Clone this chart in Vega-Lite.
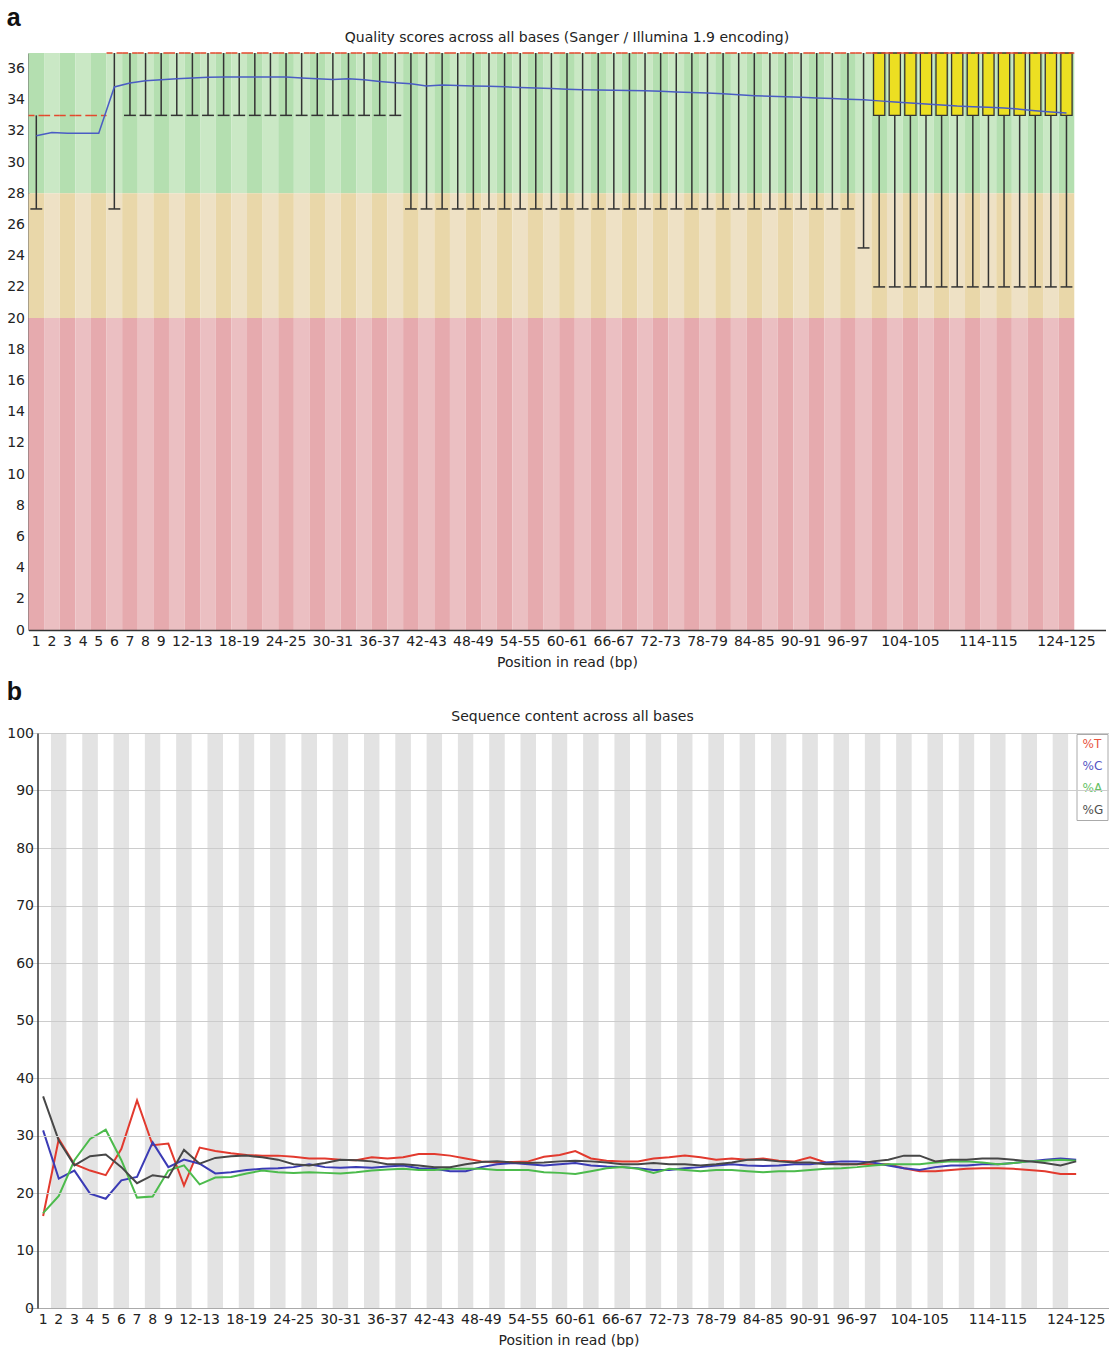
{
 "$schema": "https://vega.github.io/schema/vega-lite/v6.json",
 "background": "white",
 "padding": {"left": 6.5, "top": 6, "right": 4, "bottom": 0},
 "spacing": 11,
 "resolve": {"scale": {"stroke": "independent"}},
 "datasets": {
  "qual": [
   {"bin":"1","low":27,"q1":33,"med":33,"q3":33,"high":33,"mean":31.7},
   {"bin":"2","low":33,"q1":33,"med":33,"q3":33,"high":33,"mean":31.9},
   {"bin":"3","low":33,"q1":33,"med":33,"q3":33,"high":33,"mean":31.85},
   {"bin":"4","low":33,"q1":33,"med":33,"q3":33,"high":33,"mean":31.85},
   {"bin":"5","low":33,"q1":33,"med":33,"q3":33,"high":33,"mean":31.85},
   {"bin":"6","low":27,"q1":37,"med":37,"q3":37,"high":37,"mean":34.82},
   {"bin":"7","low":33,"q1":37,"med":37,"q3":37,"high":37,"mean":35.08},
   {"bin":"8","low":33,"q1":37,"med":37,"q3":37,"high":37,"mean":35.22},
   {"bin":"9","low":33,"q1":37,"med":37,"q3":37,"high":37,"mean":35.29},
   {"bin":"10-11","low":33,"q1":37,"med":37,"q3":37,"high":37,"mean":35.35},
   {"bin":"12-13","low":33,"q1":37,"med":37,"q3":37,"high":37,"mean":35.40},
   {"bin":"14-15","low":33,"q1":37,"med":37,"q3":37,"high":37,"mean":35.44},
   {"bin":"16-17","low":33,"q1":37,"med":37,"q3":37,"high":37,"mean":35.46},
   {"bin":"18-19","low":33,"q1":37,"med":37,"q3":37,"high":37,"mean":35.46},
   {"bin":"20-21","low":33,"q1":37,"med":37,"q3":37,"high":37,"mean":35.46},
   {"bin":"22-23","low":33,"q1":37,"med":37,"q3":37,"high":37,"mean":35.46},
   {"bin":"24-25","low":33,"q1":37,"med":37,"q3":37,"high":37,"mean":35.46},
   {"bin":"26-27","low":33,"q1":37,"med":37,"q3":37,"high":37,"mean":35.40},
   {"bin":"28-29","low":33,"q1":37,"med":37,"q3":37,"high":37,"mean":35.35},
   {"bin":"30-31","low":33,"q1":37,"med":37,"q3":37,"high":37,"mean":35.30},
   {"bin":"32-33","low":33,"q1":37,"med":37,"q3":37,"high":37,"mean":35.35},
   {"bin":"34-35","low":33,"q1":37,"med":37,"q3":37,"high":37,"mean":35.28},
   {"bin":"36-37","low":33,"q1":37,"med":37,"q3":37,"high":37,"mean":35.18},
   {"bin":"38-39","low":33,"q1":37,"med":37,"q3":37,"high":37,"mean":35.10},
   {"bin":"40-41","low":27,"q1":37,"med":37,"q3":37,"high":37,"mean":35.03},
   {"bin":"42-43","low":27,"q1":37,"med":37,"q3":37,"high":37,"mean":34.88},
   {"bin":"44-45","low":27,"q1":37,"med":37,"q3":37,"high":37,"mean":34.94},
   {"bin":"46-47","low":27,"q1":37,"med":37,"q3":37,"high":37,"mean":34.92},
   {"bin":"48-49","low":27,"q1":37,"med":37,"q3":37,"high":37,"mean":34.88},
   {"bin":"50-51","low":27,"q1":37,"med":37,"q3":37,"high":37,"mean":34.86},
   {"bin":"52-53","low":27,"q1":37,"med":37,"q3":37,"high":37,"mean":34.83},
   {"bin":"54-55","low":27,"q1":37,"med":37,"q3":37,"high":37,"mean":34.79},
   {"bin":"56-57","low":27,"q1":37,"med":37,"q3":37,"high":37,"mean":34.76},
   {"bin":"58-59","low":27,"q1":37,"med":37,"q3":37,"high":37,"mean":34.72},
   {"bin":"60-61","low":27,"q1":37,"med":37,"q3":37,"high":37,"mean":34.68},
   {"bin":"62-63","low":27,"q1":37,"med":37,"q3":37,"high":37,"mean":34.65},
   {"bin":"64-65","low":27,"q1":37,"med":37,"q3":37,"high":37,"mean":34.63},
   {"bin":"66-67","low":27,"q1":37,"med":37,"q3":37,"high":37,"mean":34.61},
   {"bin":"68-69","low":27,"q1":37,"med":37,"q3":37,"high":37,"mean":34.60},
   {"bin":"70-71","low":27,"q1":37,"med":37,"q3":37,"high":37,"mean":34.58},
   {"bin":"72-73","low":27,"q1":37,"med":37,"q3":37,"high":37,"mean":34.54},
   {"bin":"74-75","low":27,"q1":37,"med":37,"q3":37,"high":37,"mean":34.50},
   {"bin":"76-77","low":27,"q1":37,"med":37,"q3":37,"high":37,"mean":34.47},
   {"bin":"78-79","low":27,"q1":37,"med":37,"q3":37,"high":37,"mean":34.43},
   {"bin":"80-81","low":27,"q1":37,"med":37,"q3":37,"high":37,"mean":34.38},
   {"bin":"82-83","low":27,"q1":37,"med":37,"q3":37,"high":37,"mean":34.32},
   {"bin":"84-85","low":27,"q1":37,"med":37,"q3":37,"high":37,"mean":34.26},
   {"bin":"86-87","low":27,"q1":37,"med":37,"q3":37,"high":37,"mean":34.22},
   {"bin":"88-89","low":27,"q1":37,"med":37,"q3":37,"high":37,"mean":34.20},
   {"bin":"90-91","low":27,"q1":37,"med":37,"q3":37,"high":37,"mean":34.16},
   {"bin":"92-93","low":27,"q1":37,"med":37,"q3":37,"high":37,"mean":34.12},
   {"bin":"94-95","low":27,"q1":37,"med":37,"q3":37,"high":37,"mean":34.08},
   {"bin":"96-97","low":27,"q1":37,"med":37,"q3":37,"high":37,"mean":34.04},
   {"bin":"98-99","low":24.5,"q1":37,"med":37,"q3":37,"high":37,"mean":34.00},
   {"bin":"100-101","low":22,"q1":33,"med":37,"q3":37,"high":37,"mean":33.93},
   {"bin":"102-103","low":22,"q1":33,"med":37,"q3":37,"high":37,"mean":33.86},
   {"bin":"104-105","low":22,"q1":33,"med":37,"q3":37,"high":37,"mean":33.80},
   {"bin":"106-107","low":22,"q1":33,"med":37,"q3":37,"high":37,"mean":33.73},
   {"bin":"108-109","low":22,"q1":33,"med":37,"q3":37,"high":37,"mean":33.67},
   {"bin":"110-111","low":22,"q1":33,"med":37,"q3":37,"high":37,"mean":33.60},
   {"bin":"112-113","low":22,"q1":33,"med":37,"q3":37,"high":37,"mean":33.56},
   {"bin":"114-115","low":22,"q1":33,"med":37,"q3":37,"high":37,"mean":33.52},
   {"bin":"116-117","low":22,"q1":33,"med":37,"q3":37,"high":37,"mean":33.48},
   {"bin":"118-119","low":22,"q1":33,"med":37,"q3":37,"high":37,"mean":33.40},
   {"bin":"120-121","low":22,"q1":33,"med":37,"q3":37,"high":37,"mean":33.30},
   {"bin":"122-123","low":22,"q1":33,"med":37,"q3":37,"high":37,"mean":33.22},
   {"bin":"124-125","low":22,"q1":33,"med":37,"q3":37,"high":37,"mean":33.15}
  ],
  "content": [
   {"bin":"1","%T":16.0,"%C":30.9,"%A":16.5,"%G":36.8},
   {"bin":"2","%T":29.4,"%C":22.5,"%A":19.5,"%G":29.1},
   {"bin":"3","%T":25.0,"%C":23.9,"%A":25.7,"%G":24.8},
   {"bin":"4","%T":23.9,"%C":19.9,"%A":29.4,"%G":26.4},
   {"bin":"5","%T":23.1,"%C":19.0,"%A":31.0,"%G":26.7},
   {"bin":"6","%T":27.7,"%C":22.2,"%A":25.7,"%G":24.5},
   {"bin":"7","%T":36.1,"%C":22.8,"%A":19.2,"%G":21.7},
   {"bin":"8","%T":28.3,"%C":28.8,"%A":19.4,"%G":23.1},
   {"bin":"9","%T":28.6,"%C":24.5,"%A":23.9,"%G":22.7},
   {"bin":"10-11","%T":21.3,"%C":25.8,"%A":24.8,"%G":27.5},
   {"bin":"12-13","%T":27.9,"%C":25.1,"%A":21.5,"%G":25.1},
   {"bin":"14-15","%T":27.3,"%C":23.4,"%A":22.7,"%G":26.1},
   {"bin":"16-17","%T":26.9,"%C":23.6,"%A":22.8,"%G":26.4},
   {"bin":"18-19","%T":26.6,"%C":24.0,"%A":23.4,"%G":26.5},
   {"bin":"20-21","%T":26.5,"%C":24.2,"%A":23.9,"%G":26.2},
   {"bin":"22-23","%T":26.5,"%C":24.3,"%A":23.6,"%G":25.8},
   {"bin":"24-25","%T":26.3,"%C":24.5,"%A":23.5,"%G":25.0},
   {"bin":"26-27","%T":26.0,"%C":25.0,"%A":23.6,"%G":24.8},
   {"bin":"28-29","%T":26.0,"%C":24.5,"%A":23.5,"%G":25.2},
   {"bin":"30-31","%T":25.8,"%C":24.4,"%A":23.4,"%G":25.8},
   {"bin":"32-33","%T":25.7,"%C":24.5,"%A":23.6,"%G":25.7},
   {"bin":"34-35","%T":26.2,"%C":24.4,"%A":23.9,"%G":25.5},
   {"bin":"36-37","%T":26.0,"%C":24.6,"%A":24.1,"%G":25.0},
   {"bin":"38-39","%T":26.2,"%C":24.8,"%A":24.2,"%G":25.0},
   {"bin":"40-41","%T":26.8,"%C":24.3,"%A":24.0,"%G":24.8},
   {"bin":"42-43","%T":26.8,"%C":24.2,"%A":24.0,"%G":24.5},
   {"bin":"44-45","%T":26.5,"%C":23.8,"%A":24.2,"%G":24.5},
   {"bin":"46-47","%T":26.0,"%C":23.8,"%A":24.2,"%G":25.0},
   {"bin":"48-49","%T":25.5,"%C":24.5,"%A":24.2,"%G":25.4},
   {"bin":"50-51","%T":25.3,"%C":25.0,"%A":24.0,"%G":25.5},
   {"bin":"52-53","%T":25.4,"%C":25.2,"%A":24.0,"%G":25.3},
   {"bin":"54-55","%T":25.5,"%C":25.0,"%A":24.0,"%G":25.2},
   {"bin":"56-57","%T":26.3,"%C":24.8,"%A":23.6,"%G":25.3},
   {"bin":"58-59","%T":26.6,"%C":25.0,"%A":23.5,"%G":25.5},
   {"bin":"60-61","%T":27.3,"%C":25.2,"%A":23.3,"%G":25.6},
   {"bin":"62-63","%T":26.0,"%C":24.8,"%A":23.8,"%G":25.5},
   {"bin":"64-65","%T":25.6,"%C":24.6,"%A":24.3,"%G":25.3},
   {"bin":"66-67","%T":25.5,"%C":24.5,"%A":24.5,"%G":25.0},
   {"bin":"68-69","%T":25.5,"%C":24.3,"%A":24.2,"%G":25.0},
   {"bin":"70-71","%T":26.0,"%C":24.0,"%A":23.5,"%G":25.2},
   {"bin":"72-73","%T":26.2,"%C":24.0,"%A":24.2,"%G":25.0},
   {"bin":"74-75","%T":26.5,"%C":24.3,"%A":24.0,"%G":25.0},
   {"bin":"76-77","%T":26.2,"%C":24.5,"%A":23.8,"%G":24.8},
   {"bin":"78-79","%T":25.8,"%C":24.8,"%A":24.0,"%G":25.0},
   {"bin":"80-81","%T":26.0,"%C":25.0,"%A":24.0,"%G":25.3},
   {"bin":"82-83","%T":25.8,"%C":24.8,"%A":23.8,"%G":25.8},
   {"bin":"84-85","%T":26.0,"%C":24.7,"%A":23.6,"%G":25.8},
   {"bin":"86-87","%T":25.6,"%C":24.8,"%A":23.8,"%G":25.5},
   {"bin":"88-89","%T":25.5,"%C":25.0,"%A":23.8,"%G":25.3},
   {"bin":"90-91","%T":26.2,"%C":25.0,"%A":24.0,"%G":25.3},
   {"bin":"92-93","%T":25.3,"%C":25.3,"%A":24.2,"%G":25.0},
   {"bin":"94-95","%T":25.0,"%C":25.5,"%A":24.3,"%G":25.0},
   {"bin":"96-97","%T":25.0,"%C":25.5,"%A":24.5,"%G":25.0},
   {"bin":"98-99","%T":25.0,"%C":25.3,"%A":24.8,"%G":25.5},
   {"bin":"100-101","%T":25.0,"%C":24.8,"%A":25.0,"%G":25.8},
   {"bin":"102-103","%T":24.3,"%C":24.3,"%A":25.0,"%G":26.5},
   {"bin":"104-105","%T":23.8,"%C":24.0,"%A":25.0,"%G":26.5},
   {"bin":"106-107","%T":23.8,"%C":24.5,"%A":25.3,"%G":25.5},
   {"bin":"108-109","%T":24.0,"%C":24.8,"%A":25.5,"%G":25.8},
   {"bin":"110-111","%T":24.2,"%C":24.8,"%A":25.5,"%G":25.8},
   {"bin":"112-113","%T":24.3,"%C":25.0,"%A":25.3,"%G":26.0},
   {"bin":"114-115","%T":24.3,"%C":25.0,"%A":25.0,"%G":26.0},
   {"bin":"116-117","%T":24.2,"%C":25.2,"%A":25.2,"%G":25.8},
   {"bin":"118-119","%T":24.0,"%C":25.5,"%A":25.5,"%G":25.5},
   {"bin":"120-121","%T":23.8,"%C":25.8,"%A":25.6,"%G":25.2},
   {"bin":"122-123","%T":23.3,"%C":26.0,"%A":25.8,"%G":24.8},
   {"bin":"124-125","%T":23.3,"%C":25.8,"%A":25.6,"%G":25.5}
  ]
 },
 "vconcat": [
  {
   "title": {"text": "a", "anchor": "start", "frame": "bounds", "font": "Liberation Sans", "fontSize": 25, "fontWeight": "bold", "color": "#111111", "offset": 0},
   "vconcat": [
    {
     "title": {"text": "Quality scores across all bases (Sanger / Illumina 1.9 encoding)", "anchor": "middle", "frame": "group", "font": "DejaVu Sans", "fontSize": 14, "fontWeight": "normal", "color": "#222222", "offset": 7},
     "width": 1077,
     "height": 577,
     "data": {"name": "qual"},
     "encoding": {
      "x": {"field": "bin", "type": "nominal", "title": "Position in read (bp)",
            "scale": {"domain": ["1","2","3","4","5","6","7","8","9","10-11","12-13","14-15","16-17","18-19","20-21","22-23","24-25","26-27","28-29","30-31","32-33","34-35","36-37","38-39","40-41","42-43","44-45","46-47","48-49","50-51","52-53","54-55","56-57","58-59","60-61","62-63","64-65","66-67","68-69","70-71","72-73","74-75","76-77","78-79","80-81","82-83","84-85","86-87","88-89","90-91","92-93","94-95","96-97","98-99","100-101","102-103","104-105","106-107","108-109","110-111","112-113","114-115","116-117","118-119","120-121","122-123","124-125"], "paddingInner": 0, "paddingOuter": 1.225, "align": 0},
            "axis": {"values": ["1","2","3","4","5","6","7","8","9","12-13","18-19","24-25","30-31","36-37","42-43","48-49","54-55","60-61","66-67","72-73","78-79","84-85","90-91","96-97","104-105","114-115","124-125"], "labelAngle": 0, "labelPadding": 4, "titlePadding": 7, "domainColor": "#333333", "domainWidth": 1.5, "labelOverlap": false}}
     },
     "layer": [
      {"mark": {"type": "rect"},
       "encoding": {"y": {"datum": 28, "type": "quantitative", "title": null, "scale": {"domain": [0, 37], "nice": false}, "axis": {"values": [0,2,4,6,8,10,12,14,16,18,20,22,24,26,28,30,32,34,36], "labelOverlap": false, "labelPadding": 4, "domainColor": "#333333", "domainWidth": 1.5}},
                    "y2": {"datum": 37},
                    "fill": {"field": "bin", "type": "nominal", "sort": null, "legend": null, "scale": {"range": ["#b4dfb0", "#cae8c5"]}}}},
      {"mark": {"type": "rect"},
       "encoding": {"y": {"datum": 20, "type": "quantitative", "title": null, "axis": {"values": [0,2,4,6,8,10,12,14,16,18,20,22,24,26,28,30,32,34,36], "labelOverlap": false, "labelPadding": 4, "domainColor": "#333333", "domainWidth": 1.5}},
                    "y2": {"datum": 28},
                    "fill": {"field": "bin", "type": "nominal", "sort": null, "legend": null, "scale": {"range": ["#e9d7a9", "#eee1c5"]}}}},
      {"mark": {"type": "rect"},
       "encoding": {"y": {"datum": 0, "type": "quantitative", "title": null, "axis": {"values": [0,2,4,6,8,10,12,14,16,18,20,22,24,26,28,30,32,34,36], "labelOverlap": false, "labelPadding": 4, "domainColor": "#333333", "domainWidth": 1.5}},
                    "y2": {"datum": 20},
                    "fill": {"field": "bin", "type": "nominal", "sort": null, "legend": null, "scale": {"range": ["#e6aaae", "#ebbfc2"]}}}},
      {"transform": [{"filter": "datum.low < datum.high"}],
       "mark": {"type": "rule", "color": "#333333", "strokeWidth": 1.5},
       "encoding": {"y": {"field": "low", "type": "quantitative", "title": null, "axis": {"values": [0,2,4,6,8,10,12,14,16,18,20,22,24,26,28,30,32,34,36], "labelOverlap": false, "labelPadding": 4, "domainColor": "#333333", "domainWidth": 1.5}}, "y2": {"field": "high"}}},
      {"transform": [{"filter": "datum.low < datum.high"}],
       "mark": {"type": "rule", "color": "#333333", "strokeWidth": 1.5},
       "encoding": {"x": {"field": "bin", "type": "nominal", "bandPosition": 0.12, "title": "Position in read (bp)"},
                    "x2": {"field": "bin", "bandPosition": 0.88},
                    "y": {"field": "low", "type": "quantitative", "title": null, "axis": {"values": [0,2,4,6,8,10,12,14,16,18,20,22,24,26,28,30,32,34,36], "labelOverlap": false, "labelPadding": 4, "domainColor": "#333333", "domainWidth": 1.5}}}},
      {"transform": [{"filter": "datum.q1 < datum.q3"}],
       "mark": {"type": "bar", "width": {"band": 0.72}, "fill": "#ecdf22", "stroke": "#333333", "strokeWidth": 1.3},
       "encoding": {"y": {"field": "q1", "type": "quantitative", "title": null, "axis": {"values": [0,2,4,6,8,10,12,14,16,18,20,22,24,26,28,30,32,34,36], "labelOverlap": false, "labelPadding": 4, "domainColor": "#333333", "domainWidth": 1.5}}, "y2": {"field": "q3"}}},
      {"mark": {"type": "rule", "color": "#e4482c", "strokeWidth": 1.5, "strokeDash": [6, 4]},
       "encoding": {"x": {"field": "bin", "type": "nominal", "bandPosition": 0, "title": "Position in read (bp)"},
                    "x2": {"field": "bin", "bandPosition": 1},
                    "y": {"field": "med", "type": "quantitative", "title": null, "axis": {"values": [0,2,4,6,8,10,12,14,16,18,20,22,24,26,28,30,32,34,36], "labelOverlap": false, "labelPadding": 4, "domainColor": "#333333", "domainWidth": 1.5}}}},
      {"mark": {"type": "line", "color": "#4a5cc4", "strokeWidth": 1.5},
       "encoding": {"y": {"field": "mean", "type": "quantitative", "title": null, "axis": {"values": [0,2,4,6,8,10,12,14,16,18,20,22,24,26,28,30,32,34,36], "labelOverlap": false, "labelPadding": 4, "domainColor": "#333333", "domainWidth": 1.5}}}}
     ],
     "resolve": {"scale": {"fill": "independent"}}
    }
   ]
  },
  {
   "title": {"text": "b", "anchor": "start", "frame": "bounds", "font": "Liberation Sans", "fontSize": 25, "fontWeight": "bold", "color": "#111111", "offset": 5},
   "resolve": {"scale": {"stroke": "independent"}},
   "vconcat": [
    {
     "title": {"text": "Sequence content across all bases", "anchor": "middle", "frame": "group", "font": "DejaVu Sans", "fontSize": 14, "fontWeight": "normal", "color": "#222222", "offset": 2, "dx": 4},
     "width": 1080,
     "height": 575,
     "encoding": {
      "x": {"field": "bin", "type": "nominal", "title": "Position in read (bp)",
            "scale": {"domain": ["1","2","3","4","5","6","7","8","9","10-11","12-13","14-15","16-17","18-19","20-21","22-23","24-25","26-27","28-29","30-31","32-33","34-35","36-37","38-39","40-41","42-43","44-45","46-47","48-49","50-51","52-53","54-55","56-57","58-59","60-61","62-63","64-65","66-67","68-69","70-71","72-73","74-75","76-77","78-79","80-81","82-83","84-85","86-87","88-89","90-91","92-93","94-95","96-97","98-99","100-101","102-103","104-105","106-107","108-109","110-111","112-113","114-115","116-117","118-119","120-121","122-123","124-125"], "paddingInner": 0, "paddingOuter": 1.34, "align": 0.217},
            "axis": {"values": ["1","2","3","4","5","6","7","8","9","12-13","18-19","24-25","30-31","36-37","42-43","48-49","54-55","60-61","66-67","72-73","78-79","84-85","90-91","96-97","104-105","114-115","124-125"], "labelAngle": 0, "labelPadding": 4, "titlePadding": 7, "domainColor": "#aaaaaa", "labelOverlap": false}}
     },
     "layer": [
      {"data": {"name": "qual"},
       "mark": {"type": "rect"},
       "encoding": {"y": {"datum": 0, "type": "quantitative", "title": null, "scale": {"domain": [0, 100], "nice": false}, "axis": {"values": [0,10,20,30,40,50,60,70,80,90,100], "offset": -9, "labelOverlap": false, "grid": true, "gridColor": "#cccccc", "labelPadding": 4, "domainColor": "#333333", "domainWidth": 1.5, "zindex": 1}},
                    "y2": {"datum": 100},
                    "fill": {"field": "bin", "type": "nominal", "sort": null, "legend": null, "scale": {"range": ["#ffffff", "#e3e3e3"]}}}},
      {"data": {"name": "content"},
       "transform": [{"fold": ["%T", "%C", "%A", "%G"], "as": ["base", "pct"]}],
       "mark": {"type": "line", "strokeWidth": 2},
       "encoding": {"y": {"field": "pct", "type": "quantitative", "title": null, "axis": {"values": [0,10,20,30,40,50,60,70,80,90,100], "offset": -9, "labelOverlap": false, "grid": true, "gridColor": "#cccccc", "labelPadding": 4, "domainColor": "#333333", "domainWidth": 1.5, "zindex": 1}},
                    "stroke": {"field": "base", "type": "nominal",
                               "scale": {"domain": ["%T", "%C", "%A", "%G"], "range": ["#e23a2e", "#3b3bb5", "#4cbb4c", "#474747"]},
                               "legend": {"orient": "top-right", "title": null, "offset": 1, "symbolSize": 0, "symbolStrokeWidth": 0, "labelOffset": -10, "labelFont": "DejaVu Sans", "labelFontSize": 12, "fillColor": "white", "strokeColor": "#aaaaaa", "padding": 4, "rowPadding": 10,
                                          "encode": {"labels": {"update": {"fill": {"signal": "datum.value === '%T' ? '#e8553f' : datum.value === '%C' ? '#5555c4' : datum.value === '%A' ? '#66c266' : '#505050'"}}}}}}}}
     ]
    }
   ]
  }
 ],
 "config": {
  "view": {"stroke": null},
  "axis": {"labelFont": "DejaVu Sans", "labelFontSize": 14, "labelColor": "#222222", "titleFont": "DejaVu Sans", "titleFontSize": 14, "titleFontWeight": "normal", "titleColor": "#222222", "ticks": false, "grid": false},
  "axisY": {"labelOverlap": false}
 }
}
